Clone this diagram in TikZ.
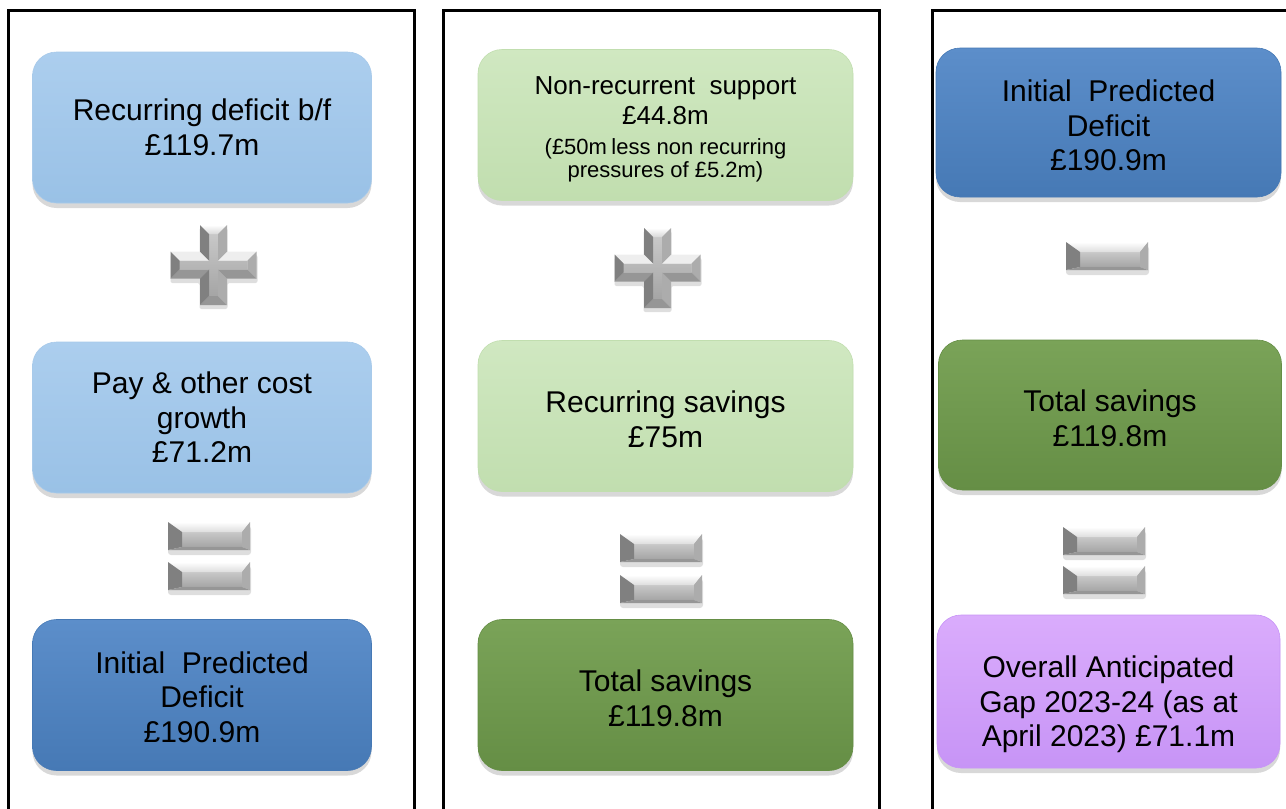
\documentclass[tikz,border=0pt]{standalone}
\usepackage{fontspec}
\setmainfont{Liberation Sans}
\usetikzlibrary{shadows}
\definecolor{lbA}{RGB}{172,206,238}
\definecolor{lbB}{RGB}{153,193,230}
\definecolor{dbA}{RGB}{92,142,202}
\definecolor{dbB}{RGB}{70,121,181}
\definecolor{lgA}{RGB}{208,232,193}
\definecolor{lgB}{RGB}{193,222,175}
\definecolor{dgA}{RGB}{122,163,88}
\definecolor{dgB}{RGB}{101,142,69}
\definecolor{puA}{RGB}{218,172,252}
\definecolor{puB}{RGB}{199,148,246}
\definecolor{opUp}{RGB}{238,238,238}
\definecolor{opLeft}{RGB}{128,128,128}
\definecolor{opRight}{RGB}{172,172,172}
\definecolor{opDown}{RGB}{150,150,150}
\definecolor{opFaceA}{RGB}{200,200,200}
\definecolor{opFaceB}{RGB}{165,165,165}
\newcommand\natsp{\spaceskip=0.278em\xspaceskip=0.278em\relax}
\newcommand\lift[1]{\rule{0pt}{#1}}
\tikzset{
  box/.style={rounded corners=24pt, inner sep=5pt, align=flush center,
    drop shadow={shadow xshift=0pt, shadow yshift=-5pt, opacity=0.3},
    font=\fontsize{30}{34.5}\selectfont, text=black},
  lightblue/.style={box, top color=lbA, bottom color=lbB, draw=lbB!85!white, line width=0.6pt},
  darkblue/.style={box, top color=dbA, bottom color=dbB, draw=dbB, line width=0.6pt},
  lightgreen/.style={box, top color=lgA, bottom color=lgB, draw=lgB, line width=0.6pt},
  darkgreen/.style={box, top color=dgA, bottom color=dgB, draw=dgB, line width=0.6pt},
  purplebox/.style={box, top color=puA, bottom color=puB, draw=puB, line width=0.6pt},
  panel/.style={draw=black, line width=3pt},
  opshadow/.style={fill=black, opacity=0.13}
}
\newcommand\opplus[2]{%
\begin{scope}[shift={(#1,#2)}]
 \fill[opshadow, rounded corners=2pt] (-14,-37) -- (14,-37) -- (14,-10) -- (44,-10) -- (44,18) -- (14,18) -- (14,44) -- (-14,44) -- (-14,18) -- (-43,18) -- (-43,-10) -- (-14,-10) -- cycle;
 \shade[top color=opFaceA, bottom color=opFaceB] (-4.5,-31) -- (4.5,-31) -- (4.5,-4.5) -- (34,-4.5) -- (34,4.5) -- (4.5,4.5) -- (4.5,31) -- (-4.5,31) -- (-4.5,4.5) -- (-34,4.5) -- (-34,-4.5) -- (-4.5,-4.5) -- cycle;
 % up facets
 \shade[top color=white, bottom color=opUp!80!gray] (-13.5,-40) -- (13.5,-40) -- (4.5,-31) -- (-4.5,-31) -- cycle;
 \fill[opUp] (13.5,-13.5) -- (43,-13.5) -- (34,-4.5) -- (4.5,-4.5) -- cycle;
 \fill[opUp] (-43,-13.5) -- (-13.5,-13.5) -- (-4.5,-4.5) -- (-34,-4.5) -- cycle;
 % right facets
 \fill[opRight] (13.5,-40) -- (13.5,-13.5) -- (4.5,-4.5) -- (4.5,-31) -- cycle;
 \fill[opRight] (43,-13.5) -- (43,13.5) -- (34,4.5) -- (34,-4.5) -- cycle;
 \fill[opRight] (13.5,13.5) -- (13.5,40) -- (4.5,31) -- (4.5,4.5) -- cycle;
 % down facets
 \fill[opDown] (43,13.5) -- (13.5,13.5) -- (4.5,4.5) -- (34,4.5) -- cycle;
 \fill[opDown] (13.5,40) -- (-13.5,40) -- (-4.5,31) -- (4.5,31) -- cycle;
 \fill[opDown] (-13.5,13.5) -- (-43,13.5) -- (-34,4.5) -- (-4.5,4.5) -- cycle;
 % left facets
 \fill[opLeft] (-13.5,40) -- (-13.5,13.5) -- (-4.5,4.5) -- (-4.5,31) -- cycle;
 \fill[opLeft] (-43,13.5) -- (-43,-13.5) -- (-34,-4.5) -- (-34,4.5) -- cycle;
 \fill[opLeft] (-13.5,-13.5) -- (-13.5,-40) -- (-4.5,-31) -- (-4.5,-4.5) -- cycle;
\end{scope}}
\newcommand\opbar[2]{%
\begin{scope}[shift={(#1,#2)}]
 \fill[opshadow, rounded corners=3pt] (-41,-10) rectangle (42,19);
 \shade[top color=opFaceA, bottom color=opFaceB] (-27,-4) rectangle (33,11);
 \shade[top color=white, bottom color=opUp!85!gray] (-41,-14) -- (41,-14) -- (33,-4) -- (-27,-4) -- cycle;
 \fill[opLeft] (-41,-14) -- (-27,-4) -- (-27,11) -- (-41,14) -- cycle;
 \fill[opRight] (41,-14) -- (41,14) -- (33,11) -- (33,-4) -- cycle;
 \fill[opDown] (-41,14) -- (41,14) -- (33,11) -- (-27,11) -- cycle;
\end{scope}}
\begin{document}
\begin{tikzpicture}[x=1pt, y=-1pt]
\useasboundingbox (0,0) rectangle (1286,809);
\clip (0,0) rectangle (1286,809);
\fill[white] (0,0) rectangle (1286,809);

% panels
\draw[panel] (8.7,10) rectangle (414,840);
\draw[panel] (443.5,10) rectangle (879,840);
\draw[panel] (932.5,10) rectangle (1300,840);

% panel 1
\node[lightblue, minimum width=339pt, minimum height=151pt, text width=325pt] (rec) at (202,127.5) {\natsp Recurring deficit b/f\par £119.7m};
\opplus{213.5}{265}
\node[lightblue, minimum width=339pt, minimum height=151pt, text width=325pt] (pay) at (202,417.5) {\natsp Pay \& other cost\par growth\par £71.2m};
\opbar{209}{536}
\opbar{209}{576}
\node[darkblue, minimum width=339pt, minimum height=151pt, text width=325pt] (ipd) at (202,695) {\natsp\lift{26pt}Initial\ \ Predicted\par Deficit\par £190.9m};

% panel 2
\node[lightgreen, minimum width=375pt, minimum height=151pt, text width=360pt] (nrs) at (665.5,125) {{\fontsize{26}{30}\selectfont\natsp\lift{27pt}Non-recurrent\ \ support\par £44.8m\par}\vspace{7pt}{\fontsize{22}{23}\selectfont\natsp (£50m\hspace{0.2em}less non recurring\par pressures of £5.2m)\par}};
\opplus{657.5}{268}
\node[lightgreen, minimum width=375pt, minimum height=151pt, text width=360pt] (rsv) at (665.5,416) {\natsp\lift{28pt}Recurring savings\par £75m};
\opbar{661}{548}
\opbar{661}{589}
\node[darkgreen, minimum width=375pt, minimum height=151pt, text width=360pt] (tsv) at (665.5,695) {\natsp\lift{28pt}Total savings\par £119.8m};

% panel 3
\node[darkblue, minimum width=345pt, minimum height=149pt, text width=330pt] (ipd2) at (1108.5,122.5) {\natsp\lift{28pt}Initial\ \ Predicted\par Deficit\par £190.9m};
\opbar{1107}{256}
\node[darkgreen, minimum width=343pt, minimum height=150pt, text width=330pt] (tsv2) at (1110,415) {\natsp\lift{28pt}Total savings\par £119.8m};
\opbar{1104}{541}
\opbar{1104}{580}
\node[purplebox, minimum width=343pt, minimum height=153pt, text width=330pt] (gap) at (1108.5,691.5) {\natsp\lift{48pt}Overall Anticipated\par Gap 2023-24 (as at\par April 2023) £71.1m};
\end{tikzpicture}
\end{document}
